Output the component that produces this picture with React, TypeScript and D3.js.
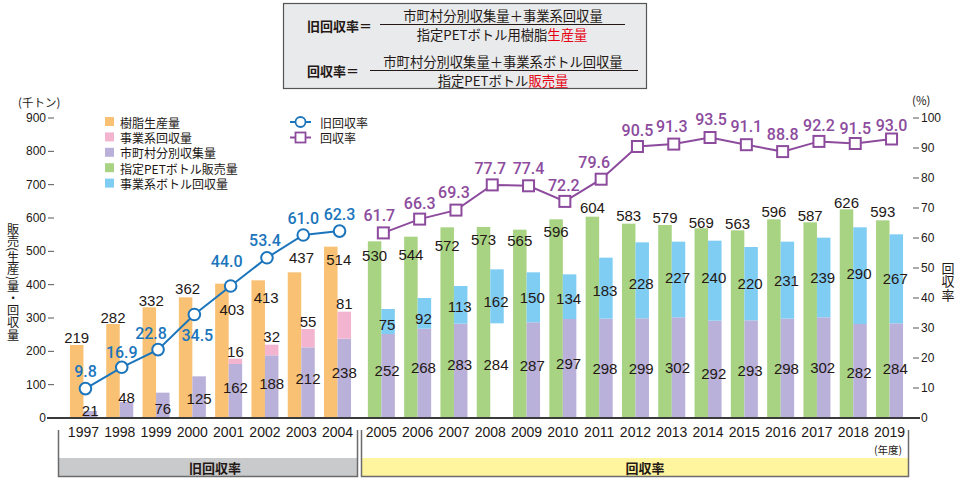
import React from 'react';
import * as d3 from 'd3';

// ---------- data ----------
const years = ['1997','1998','1999','2000','2001','2002','2003','2004','2005','2006','2007','2008','2009','2010','2011','2012','2013','2014','2015','2016','2017','2018','2019'];
const oldYears = years.slice(0, 8);
const newYears = years.slice(8);

const resinProduction = [219, 282, 332, 362, 403, 413, 437, 514];
const businessRecovery = [0, 0, 0, 0, 16, 32, 55, 81];
const municipalOld = [21, 48, 76, 125, 162, 188, 212, 238];

const bottleSales = [530, 544, 572, 573, 565, 596, 604, 583, 579, 569, 563, 596, 587, 626, 593];
const municipalNew = [252, 268, 283, 284, 287, 297, 298, 299, 302, 292, 293, 298, 302, 282, 284];
const businessBottleRecovery = [75, 92, 113, 162, 150, 134, 183, 228, 227, 240, 220, 231, 239, 290, 267];
// the reference shows no municipal segment drawn for this year
const municipalNotDrawn = ['2008'];

const oldRate = [9.8, 16.9, 22.8, 34.5, 44.0, 53.4, 61.0, 62.3];
const newRate = [61.7, 66.3, 69.3, 77.7, 77.4, 72.2, 79.6, 90.5, 91.3, 93.5, 91.1, 88.8, 92.2, 91.5, 93.0];

const leftTicks = [0, 100, 200, 300, 400, 500, 600, 700, 800, 900];
const rightTicks = [0, 10, 20, 30, 40, 50, 60, 70, 80, 90, 100];

const legendBars = [
  { label: '樹脂生産量', color: '#f8c173' },
  { label: '事業系回収量', color: '#f3b4cf' },
  { label: '市町村分別収集量', color: '#b9b1d9' },
  { label: '指定PETボトル販売量', color: '#a8d383' },
  { label: '事業系ボトル回収量', color: '#7fcdf3' },
];
const leftTitle = '販売(生産)量・回収量';
const rightTitle = '回収率';

// ---------- label layout tweaks (pixels) ----------
const prodLabelDx = [0, 0, 2, 2, 10, 8, 7, 8];
const prodLabelDy = [-8, -7, -7, -9, 26, 17, -15, 13];
const muniOldLabelDy = [-1, -5, 16, 22, 23, 28, 31, 34];
const bizLabelDy = [0, 0, 0, 0, -7, -8, -8, -8];
const salesLabelDy = [14, 18, 18, 12, 11, 12, -9, -8, -8, -6, -7, -8, -7, -7, -9];
const muniNewLabelDy = [-6, -6, -6, -6, -5, -5, 0, 0, 0, 4, 1, 0, 0, 1, -2];
const bottleLabelDy = [3, 5, 2, 5, 0, 2, 2, 3, -2, -3, 0, 0, 0, -2, 0];
const oldRateDx = [0, 0, -7, 3, -4, -2, 0, 0];
const oldRateDy = [-17, -15, -16, 21, -25, -17, -17, -17];
const newRateDx = [-4, 0, -2, -2, 0, -1, -7, 0, -2, 1, 0, 0, 0, 0, 0];
const newRateDy = [-17, -16, -18, -16, -17, -16, -17, -16, -18, -18, -18, -17, -16, -15, -14];

const C = {
  orange: '#f8c173', pink: '#f3b4cf', lav: '#b9b1d9', green: '#a8d383', cyan: '#7fcdf3',
  blue: '#1b75bc', purple: '#8c4b9d', text: '#231815', axis: '#3a3a3a',
};
const NUM = '"Liberation Sans", Arial, sans-serif';
const RATE = 'Roboto, "Liberation Sans", sans-serif';
const JP = '"Noto Sans CJK JP", "Noto Sans", sans-serif';

export default function App() {
  const y = d3.scaleLinear().domain([0, 900]).range([418, 118]);
  const yr = d3.scaleLinear().domain([0, 100]).range([418, 118]);
  const band = d3.scaleBand<string>().domain(years).range([65.3, 65.3 + 23 * 36.3]);
  const gap = 7.5;
  const cx = (yr_: string) => (band(yr_) as number) + band.step() / 2 + (years.indexOf(yr_) >= 8 ? gap : 0);
  const bw = 13.5;
  const mark = 2;

  const oldLine = d3.line<number>().x((_, i) => cx(oldYears[i]) + mark).y(d => yr(d));
  const newLine = d3.line<number>().x((_, i) => cx(newYears[i]) + mark).y(d => yr(d));

  const numStyle = { fontFamily: NUM, fontSize: 15, fill: C.text } as const;
  const vertical = { writingMode: 'vertical-rl', textOrientation: 'mixed' } as any;

  return (
    <svg width={960} height={480} style={{ position: 'absolute', left: 0, top: 0, background: '#fff' }}>
      {/* formula box */}
      <rect x={283.5} y={3.5} width={363} height={85} fill="#e9eaeb" stroke="#555" strokeWidth={1.2} />
      <g fontFamily={JP} fill={C.text}>
        <text x={307} y={25} fontSize={13} fontWeight="bold" dominantBaseline="central">旧回収率＝</text>
        <line x1={380} x2={625} y1={24.5} y2={24.5} stroke={C.text} strokeWidth={1} />
        <text x={503} y={15} fontSize={13.3} textAnchor="middle" dominantBaseline="central">市町村分別収集量＋事業系回収量</text>
        <text x={502} y={34} fontSize={13.3} textAnchor="middle" dominantBaseline="central">
          指定PETボトル用樹脂<tspan fill="#e60012">生産量</tspan>
        </text>
        <text x={307} y={70} fontSize={13} fontWeight="bold" dominantBaseline="central">回収率＝</text>
        <line x1={370} x2={638} y1={70.5} y2={70.5} stroke={C.text} strokeWidth={1} />
        <text x={503} y={61} fontSize={13.3} textAnchor="middle" dominantBaseline="central">市町村分別収集量＋事業系ボトル回収量</text>
        <text x={503} y={80} fontSize={13.3} textAnchor="middle" dominantBaseline="central">
          指定PETボトル<tspan fill="#e60012">販売量</tspan>
        </text>
      </g>

      {/* legend */}
      <g fontFamily={JP} fontSize={12} fill={C.text}>
        {legendBars.map((d, i) => (
          <g key={d.label}>
            <rect x={105} y={117 + i * 15.4} width={9} height={9} fill={d.color} />
            <text x={120} y={122 + i * 15.4} dominantBaseline="central">{d.label}</text>
          </g>
        ))}
        <line x1={290} x2={311} y1={122} y2={122} stroke={C.blue} strokeWidth={2} />
        <circle cx={300.5} cy={122} r={5} fill="#fff" stroke={C.blue} strokeWidth={1.8} />
        <text x={320} y={122} dominantBaseline="central">旧回収率</text>
        <line x1={290} x2={311} y1={137.5} y2={137.5} stroke={C.purple} strokeWidth={2} />
        <rect x={295.5} y={132.5} width={10} height={10} fill="#fff" stroke={C.purple} strokeWidth={1.8} />
        <text x={320} y={137.5} dominantBaseline="central">回収率</text>
      </g>

      {/* left axis */}
      <text x={18} y={102} fontFamily={JP} fontSize={11.5} fill={C.text} dominantBaseline="central">(千トン)</text>
      {leftTicks.map(t => (
        <g key={t}>
          <text x={46} y={y(t)} fontFamily={NUM} fontSize={12} fill={C.text} textAnchor="end" dominantBaseline="central">{t}</text>
          {t > 0 && <line x1={48} x2={54} y1={y(t)} y2={y(t)} stroke="#555" strokeWidth={1} />}
        </g>
      ))}
      <text x={13} y={282} fontFamily={JP} fontSize={12.2} fill={C.text} textAnchor="middle"
        style={vertical}>{leftTitle}</text>

      {/* right axis */}
      <text x={912} y={100} fontFamily={JP} fontSize={11.5} fill={C.text} dominantBaseline="central">(%)</text>
      {rightTicks.map(t => (
        <g key={t}>
          <text x={921} y={yr(t)} fontFamily={NUM} fontSize={12} fill={C.text} dominantBaseline="central">{t}</text>
          {t > 0 && <line x1={913} x2={919} y1={yr(t)} y2={yr(t)} stroke="#555" strokeWidth={1} />}
        </g>
      ))}
      <text x={948} y={281.5} fontFamily={JP} fontSize={13} letterSpacing={0.5} fill={C.text} textAnchor="middle"
        style={vertical}>{rightTitle}</text>

      {/* old bars */}
      {oldYears.map((yy, i) => {
        const c = cx(yy);
        return (
          <g key={yy}>
            <rect x={c - bw} y={y(resinProduction[i])} width={bw} height={y(0) - y(resinProduction[i])} fill={C.orange} />
            <rect x={c} y={y(municipalOld[i])} width={bw} height={y(0) - y(municipalOld[i])} fill={C.lav} />
            {businessRecovery[i] > 0 && (
              <rect x={c} y={y(municipalOld[i] + businessRecovery[i])} width={bw}
                height={y(municipalOld[i]) - y(municipalOld[i] + businessRecovery[i])} fill={C.pink} />
            )}
          </g>
        );
      })}
      {/* new bars */}
      {newYears.map((yy, i) => {
        const c = cx(yy);
        const m = municipalNew[i];
        const b = businessBottleRecovery[i];
        return (
          <g key={yy}>
            <rect x={c - bw} y={y(bottleSales[i])} width={bw} height={y(0) - y(bottleSales[i])} fill={C.green} />
            {!municipalNotDrawn.includes(yy) && (
              <rect x={c} y={y(m)} width={bw} height={y(0) - y(m)} fill={C.lav} />
            )}
            <rect x={c} y={y(m + b)} width={bw} height={y(m) - y(m + b)} fill={C.cyan} />
          </g>
        );
      })}

      {/* bar value labels */}
      <g {...numStyle} textAnchor="middle" dominantBaseline="central">
        {oldYears.map((yy, i) => {
          const c = cx(yy);
          return (
            <g key={yy}>
              <text x={c - bw / 2 + prodLabelDx[i]} y={y(resinProduction[i]) + prodLabelDy[i]}>{resinProduction[i]}</text>
              <text x={c + bw / 2} y={y(municipalOld[i]) + muniOldLabelDy[i]}>{municipalOld[i]}</text>
              {businessRecovery[i] > 0 && (
                <text x={c + bw / 2} y={y(municipalOld[i] + businessRecovery[i]) + bizLabelDy[i]}>{businessRecovery[i]}</text>
              )}
            </g>
          );
        })}
        {newYears.map((yy, i) => {
          const c = cx(yy);
          const m = municipalNew[i];
          const b = businessBottleRecovery[i];
          return (
            <g key={yy}>
              <text x={c - bw / 2} y={y(bottleSales[i]) + salesLabelDy[i]}>{bottleSales[i]}</text>
              <text x={c + bw / 2 - 1} y={y(m / 2) + muniNewLabelDy[i]}>{m}</text>
              <text x={c + bw / 2 - 1} y={y(m + b / 2) + bottleLabelDy[i]}>{b}</text>
            </g>
          );
        })}
      </g>

      {/* rate lines */}
      <path d={oldLine(oldRate) as string} fill="none" stroke={C.blue} strokeWidth={2} />
      {oldRate.map((v, i) => (
        <circle key={i} cx={cx(oldYears[i]) + mark} cy={yr(v)} r={5.8} fill="#fff" stroke={C.blue} strokeWidth={2} />
      ))}
      {oldRate.map((v, i) => (
        <text key={i} x={cx(oldYears[i]) + mark + oldRateDx[i]} y={yr(v) + oldRateDy[i]} fontFamily={RATE} fontWeight={500} fontSize={16}
          fill={C.blue} textAnchor="middle" dominantBaseline="central">{v.toFixed(1)}</text>
      ))}
      <path d={newLine(newRate) as string} fill="none" stroke={C.purple} strokeWidth={2} />
      {newRate.map((v, i) => (
        <rect key={i} x={cx(newYears[i]) + mark - 5.5} y={yr(v) - 5.5} width={11} height={11} fill="#fff" stroke={C.purple} strokeWidth={2} />
      ))}
      {newRate.map((v, i) => (
        <text key={i} x={cx(newYears[i]) + mark + newRateDx[i]} y={yr(v) + newRateDy[i]} fontFamily={RATE} fontWeight={500} fontSize={16}
          fill={C.purple} textAnchor="middle" dominantBaseline="central">{v.toFixed(1)}</text>
      ))}

      {/* baseline */}
      <line x1={47} x2={920} y1={y(0)} y2={y(0)} stroke={C.axis} strokeWidth={2} />

      {/* year labels */}
      {years.map(yy => (
        <text key={yy} x={cx(yy)} y={432} fontFamily={NUM} fontSize={14} fill={C.text} textAnchor="middle" dominantBaseline="central">{yy}</text>
      ))}
      <text x={888} y={449} fontFamily={JP} fontSize={10.5} fill={C.text} textAnchor="middle" dominantBaseline="central">(年度)</text>

      {/* period brackets */}
      <rect x={58} y={458} width={300} height={18} fill="#c9cacb" />
      <path d="M58.5,430 V476.5 H357.5 V430" fill="none" stroke="#6b6b6b" strokeWidth={1.5} />
      <text x={215} y={467} fontFamily={JP} fontSize={13} fontWeight="bold" fill={C.text} textAnchor="middle" dominantBaseline="central">旧回収率</text>
      <rect x={361} y={458} width={548} height={18} fill="#fff59e" />
      <path d="M361.5,430 V476.5 H908.5 V430" fill="none" stroke="#6b6b6b" strokeWidth={1.5} />
      <text x={645} y={467} fontFamily={JP} fontSize={13} fontWeight="bold" fill={C.text} textAnchor="middle" dominantBaseline="central">回収率</text>
    </svg>
  );
}
